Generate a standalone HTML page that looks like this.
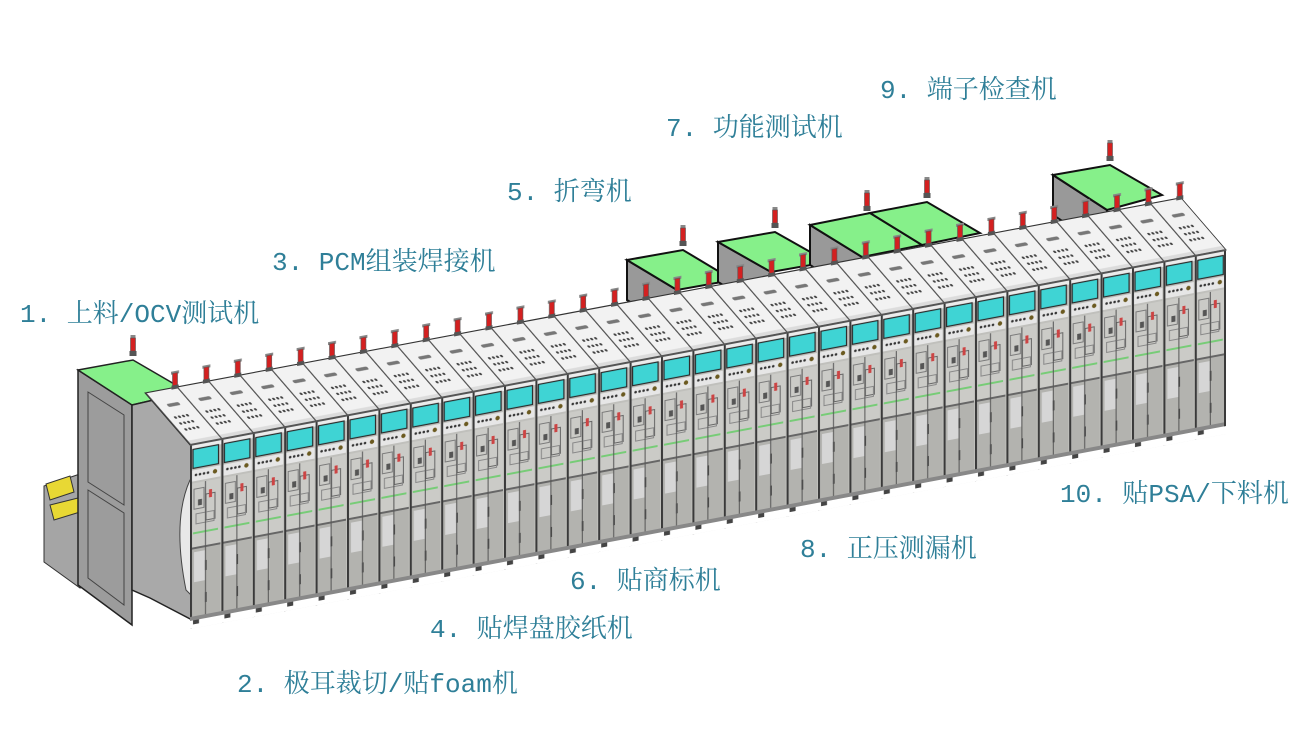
<!DOCTYPE html>
<html><head><meta charset="utf-8"><style>
html,body{margin:0;padding:0;background:#fff;}
svg{display:block}
.l{font-family:"Liberation Mono","Noto Serif CJK SC",serif;font-size:26px;fill:#2f7f98;}
</style></head><body>
<svg width="1300" height="750" viewBox="0 0 1300 750" xmlns="http://www.w3.org/2000/svg">
<defs>
<pattern id="mod" patternUnits="userSpaceOnUse" width="31.4" height="184">
 <rect x="0" y="0" width="31.4" height="184" fill="#fff"/>
 <rect x="0" y="0" width="31.4" height="176" fill="#c0c0bc"/>
 <rect x="0" y="0" width="31.4" height="5" fill="#ececec"/>
 <rect x="3" y="5" width="25.5" height="19" fill="#3fd4d4" stroke="#2a2a2a" stroke-width="1.2"/>
 <rect x="1" y="26" width="29.4" height="11" fill="#e6e6e6"/>
 <circle cx="6" cy="31" r="1.3" fill="#333"/><circle cx="10" cy="31" r="1.3" fill="#333"/><circle cx="14" cy="31" r="1.3" fill="#333"/><circle cx="18" cy="31" r="1.3" fill="#333"/><circle cx="25" cy="31" r="2.2" fill="#6b5a20"/>
 <rect x="1" y="39" width="29.4" height="64" fill="#cbcbc7"/>
 <rect x="4" y="45" width="10" height="20" fill="none" stroke="#7a7a7a"/>
 <rect x="16" y="52" width="9" height="26" fill="none" stroke="#666"/>
 <rect x="6" y="70" width="18" height="10" fill="none" stroke="#888"/>
 <rect x="8" y="56" width="4" height="6" fill="#555"/>
 <rect x="19" y="48" width="3" height="8" fill="#c44"/>
 <rect x="3" y="88" width="25" height="2" fill="#7c7"/>
 <rect x="1" y="103" width="29.4" height="2" fill="#666"/>
 <rect x="1" y="105" width="29.4" height="68" fill="#b3b3af"/>
 <rect x="4" y="108" width="11" height="30" fill="#d6d6d6"/>
 <rect x="15" y="118" width="1.6" height="10" fill="#333"/>
 <rect x="15" y="150" width="1.6" height="10" fill="#333"/>
 <rect x="0" y="0" width="2" height="176" fill="#3a3a3a"/>
 <rect x="15" y="39" width="1" height="137" fill="#555"/>
 <rect x="0" y="172" width="31.4" height="4" fill="#888"/>
 <rect x="3" y="176" width="6" height="4" fill="#444"/>
</pattern>
<pattern id="roof" patternUnits="userSpaceOnUse" width="31.4" height="52">
 <rect width="31.4" height="52" fill="#f2f2f2"/>
 <rect x="0" y="0" width="31.4" height="4" fill="#dcdcdc"/>
 <rect x="0" y="0" width="1.4" height="52" fill="#555"/>
 <circle cx="8" cy="14" r="1.2" fill="#444"/><circle cx="12" cy="14" r="1.2" fill="#444"/><circle cx="16" cy="14" r="1.2" fill="#444"/><circle cx="20" cy="14" r="1.2" fill="#444"/>
 <circle cx="8" cy="20" r="1.2" fill="#444"/><circle cx="12" cy="20" r="1.2" fill="#444"/><circle cx="16" cy="20" r="1.2" fill="#444"/><circle cx="20" cy="20" r="1.2" fill="#444"/>
 <circle cx="8" cy="26" r="1.2" fill="#444"/><circle cx="12" cy="26" r="1.2" fill="#444"/><circle cx="16" cy="26" r="1.2" fill="#444"/><circle cx="20" cy="26" r="1.2" fill="#444"/>
 <rect x="10" y="36" width="12" height="3" rx="1.5" fill="#777"/>
</pattern>
<pattern id="bea" patternUnits="userSpaceOnUse" width="31.4" height="30" x="-4">
 <rect x="0" y="8" width="8" height="3" fill="#888"/>
 <rect x="1.5" y="10" width="5" height="13" fill="#d42020" stroke="#555" stroke-width="0.6"/>
 <rect x="0.5" y="22" width="7" height="4" fill="#555"/>
</pattern>
<g id="b1">
 <rect x="-2.5" y="-3" width="5" height="3" fill="#888"/>
 <rect x="-2.5" y="0" width="5" height="13" fill="#d42020" stroke="#555" stroke-width="0.6"/>
 <rect x="-3.5" y="13" width="7" height="5" fill="#555"/>
</g>
</defs>

<polygon points="44,486 80,474 80,588 44,562" fill="#a5a5a5" stroke="#333"/>
<polygon points="46,484 70,476 74,492 50,500" fill="#e8d834" stroke="#333"/>
<polygon points="50,505 78,498 80,512 54,520" fill="#e8d834" stroke="#333"/>
<polygon points="78,370 132,405 132,625 78,585" fill="#9c9c9c" stroke="#222" stroke-width="1.5"/>
<polygon points="88,392 124,415 124,505 88,482" fill="none" stroke="#444"/>
<polygon points="88,490 124,513 124,605 88,578" fill="none" stroke="#444"/>
<polygon points="78,370 133,360 188,392 132,405" fill="#86f08a" stroke="#222" stroke-width="1.5"/>
<use href="#b1" x="133" y="338"/>
<polygon points="132,405 188,392 192,445 196,622 150,598 132,590" fill="#a9a9a9" stroke="#222" stroke-width="1.5"/>
<path d="M190,480 Q172,520 186,590 L196,600 L196,480 Z" fill="#e8e8e8" stroke="#444"/>
<g stroke="#111" stroke-width="2">
 <polygon points="627,260 677,290 677,330 627,300" fill="#999"/>
 <polygon points="627,260 683,250 733,280 677,290" fill="#86f08a"/>
 <polygon points="718,242 771,272 771,312 718,282" fill="#999"/>
 <polygon points="718,242 775,232 828,262 771,272" fill="#86f08a"/>
 <polygon points="810,225 862,257 862,297 810,265" fill="#999"/>
 <polygon points="810,225 870,213 922,245 862,257" fill="#86f08a"/>
 <polygon points="870,213 927,202 980,233 922,245" fill="#86f08a"/>
 <polygon points="1053,175 1107,210 1107,250 1053,215" fill="#999"/>
 <polygon points="1053,175 1110,165 1162,195 1107,210" fill="#86f08a"/>
</g>
<use href="#b1" x="683" y="228"/>
<use href="#b1" x="775" y="210"/>
<use href="#b1" x="867" y="193"/>
<use href="#b1" x="927" y="180"/>
<use href="#b1" x="1110" y="143"/>
<g transform="matrix(1,-0.1884,-0.865,-1,190,445)">
 <rect x="0" y="0" width="1036" height="52" fill="url(#roof)" stroke="#333" stroke-width="1"/>
</g>
<g transform="translate(190,445) skewY(-10.66)">
 <rect x="0" y="0" width="1036" height="184" fill="url(#mod)"/>
 <rect x="1034" y="0" width="2" height="176" fill="#3a3a3a"/>
 <rect x="0" y="-1" width="1036" height="2" fill="#555"/>
</g>
<g transform="translate(175,393) skewY(-10.66)">
 <rect x="-4" y="-24" width="1036" height="30" fill="url(#bea)"/>
</g>

<text class="l" x="20" y="322">1. 上料/OCV测试机</text>
<text class="l" x="237" y="692">2. 极耳裁切/贴foam机</text>
<text class="l" x="272" y="270">3. PCM组装焊接机</text>
<text class="l" x="430" y="637">4. 贴焊盘胶纸机</text>
<text class="l" x="507" y="200">5. 折弯机</text>
<text class="l" x="570" y="589">6. 贴商标机</text>
<text class="l" x="666" y="136">7. 功能测试机</text>
<text class="l" x="800" y="557">8. 正压测漏机</text>
<text class="l" x="880" y="98">9. 端子检查机</text>
<text class="l" x="1060" y="502">10. 贴PSA/下料机</text>
</svg>
</body></html>
